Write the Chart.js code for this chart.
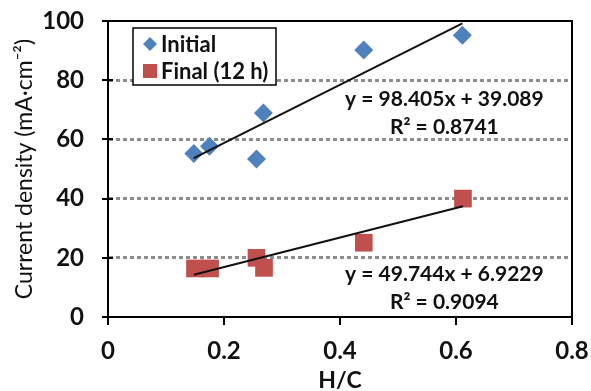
<!DOCTYPE html>
<html><head><meta charset="utf-8">
<script src="https://cdn.jsdelivr.net/npm/chart.js@4/dist/chart.umd.min.js"></script>
<style>html,body{margin:0;padding:0;background:#fff;}#wrap{width:591px;height:391px;position:relative;}</style>
</head><body><div id="wrap"><canvas id="c"></canvas></div>
<script>
const seriesNames = ['Initial', 'Final (12 h)'];
const initialX = [0.148, 0.175, 0.256, 0.268, 0.441, 0.611];
const initialY = [55.2, 57.7, 53.4, 68.9, 90.2, 95.2];
const finalX = [0.150, 0.176, 0.256, 0.269, 0.441, 0.612];
const finalY = [16.4, 16.4, 20.0, 16.6, 25.1, 40.0];
const trendInitialX = [0.148, 0.611];
const trendInitialY = [53.7, 99.2];
const trendFinalX = [0.148, 0.612];
const trendFinalY = [14.3, 37.4];
const xTicks = [0, 0.2, 0.4, 0.6, 0.8];
const yTicks = [0, 20, 40, 60, 80, 100];
const eqInitial = ['y = 98.405x + 39.089', 'R\u00b2 = 0.8741'];
const eqFinal = ['y = 49.744x + 6.9229', 'R\u00b2 = 0.9094'];
const xTitle = 'H/C';
const yTitle = 'Current density (mA\u00b7cm\u207b\u00b2)';

const BLUE = '#4f81bd', RED = '#c0504d';
const FONT = 'Lato, "DejaVu Sans", sans-serif';
const pts = (xs, ys) => xs.map((x, i) => ({x, y: ys[i]}));

const decor = {
  id: 'decor',
  afterDatasetsDraw(chart) {
    const {ctx, chartArea: a, scales: {x, y}} = chart;
    ctx.save();
    ctx.strokeStyle = '#000'; ctx.lineWidth = 2;
    ctx.strokeRect(a.left, a.top, a.right - a.left, a.bottom - a.top);
    yTicks.forEach(v => { const py = Math.round(y.getPixelForValue(v));
      ctx.beginPath(); ctx.moveTo(a.left - 6, py); ctx.lineTo(a.left + 5, py); ctx.stroke(); });
    xTicks.forEach(v => { const px = Math.round(x.getPixelForValue(v));
      ctx.beginPath(); ctx.moveTo(px, a.bottom); ctx.lineTo(px, a.bottom + 8); ctx.stroke(); });
    ctx.fillStyle = '#111'; ctx.font = 'bold 21px ' + FONT;
    ctx.textAlign = 'center'; ctx.textBaseline = 'middle';
    const ex = x.getPixelForValue(0.58);
    ctx.fillText(eqInitial[0], ex, y.getPixelForValue(73.6));
    ctx.fillText(eqInitial[1], ex, y.getPixelForValue(64.2));
    ctx.fillText(eqFinal[0], ex, y.getPixelForValue(14.3));
    ctx.fillText(eqFinal[1], ex, y.getPixelForValue(4.9));
    const lx = a.left + 25, ly = a.top + 7;
    ctx.fillStyle = '#fff'; ctx.fillRect(lx, ly, 143, 57);
    ctx.lineWidth = 1.5; ctx.strokeStyle = '#000'; ctx.strokeRect(lx, ly, 143, 57);
    ctx.fillStyle = BLUE; ctx.beginPath();
    const dcx = lx + 17, dcy = ly + 16, r = 7;
    ctx.moveTo(dcx, dcy - r); ctx.lineTo(dcx + r, dcy); ctx.lineTo(dcx, dcy + r); ctx.lineTo(dcx - r, dcy); ctx.closePath(); ctx.fill();
    ctx.fillStyle = RED; ctx.fillRect(lx + 10, ly + 36, 14, 14);
    ctx.fillStyle = '#111'; ctx.textAlign = 'left'; ctx.font = 'bold 22px ' + FONT;
    ctx.fillText(seriesNames[0], lx + 28, dcy + 1);
    ctx.fillText(seriesNames[1], lx + 28, ly + 44);
    ctx.restore();
  }
};

new Chart(document.getElementById('c'), {
  type: 'scatter',
  data: {
    datasets: [
      {label: seriesNames[0], data: pts(initialX, initialY), pointStyle: 'rectRot', pointRadius: 9.5, pointHoverRadius: 9.5,
       backgroundColor: BLUE, borderColor: BLUE, borderWidth: 0, order: 2},
      {label: seriesNames[1], data: pts(finalX, finalY), pointStyle: 'rect', pointRadius: 12.5, pointHoverRadius: 12.5,
       backgroundColor: RED, borderColor: RED, borderWidth: 0, order: 2},
      {type: 'line', label: 'trend1', data: pts(trendInitialX, trendInitialY), showLine: true, pointRadius: 0,
       borderColor: '#111', borderWidth: 2, fill: false, order: 1},
      {type: 'line', label: 'trend2', data: pts(trendFinalX, trendFinalY), showLine: true, pointRadius: 0,
       borderColor: '#111', borderWidth: 2, fill: false, order: 1}
    ]
  },
  options: {
    responsive: true, maintainAspectRatio: false, animation: false,
    layout: {padding: {top: 21, right: 19, left: 0, bottom: 0}},
    plugins: {legend: {display: false}, tooltip: {enabled: false}},
    scales: {
      x: {
        type: 'linear', min: 0, max: 0.8,
        afterBuildTicks: s => { s.ticks = xTicks.map(v => ({value: v})); },
        afterFit: s => { s.height = 74; s.paddingLeft = 0; s.paddingRight = 0; },
        grid: {display: true, drawOnChartArea: false, drawTicks: false},
        border: {display: true, color: '#000', width: 2},
        ticks: {color: '#111', font: {family: FONT, size: 24, weight: 'bold'}, padding: 20,
                callback: v => String(v)},
        title: {display: true, text: xTitle, color: '#111', font: {family: FONT, size: 23, weight: 'bold'}, padding: {top: 0, bottom: -3}}
      },
      y: {
        type: 'linear', min: 0, max: 100,
        afterBuildTicks: s => { s.ticks = yTicks.map(v => ({value: v})); },
        afterFit: s => { s.width = 108; s.paddingTop = 0; s.paddingBottom = 0; },
        grid: {drawTicks: false, lineWidth: 3,
               color: c => (c.tick && (c.tick.value === 0 || c.tick.value === 100)) ? 'rgba(0,0,0,0)' : '#8c8c8c'},
        border: {display: true, color: '#000', width: 2, dash: [4, 3]},
        ticks: {color: '#111', font: {family: FONT, size: 24, weight: 'bold'}, padding: 24},
        title: {display: true, text: yTitle, color: '#111', font: {family: FONT, size: 23}, padding: {top: 11, bottom: 0}}
      }
    }
  },
  plugins: [decor]
});
</script></body></html>
